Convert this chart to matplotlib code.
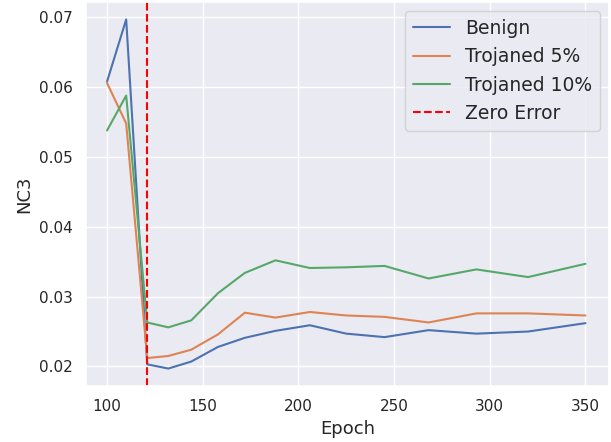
import matplotlib
matplotlib.use("Agg")
import matplotlib.pyplot as plt
import seaborn as sns

sns.set_theme(style="darkgrid")
plt.rcParams['font.family'] = ['DejaVu Sans']

epochs = [100, 110, 121, 132, 144, 158, 172, 188, 206, 225, 245, 268, 293, 320, 350]
benign = [0.0608, 0.0697, 0.0203, 0.0197, 0.0207, 0.0228, 0.0241, 0.0251, 0.0259, 0.0247, 0.0242, 0.0252, 0.0247, 0.0250, 0.0262]
troj5 = [0.0606, 0.0548, 0.0212, 0.0215, 0.0224, 0.0246, 0.0277, 0.0270, 0.0278, 0.0273, 0.0271, 0.0263, 0.0276, 0.0276, 0.0273]
troj10 = [0.0538, 0.0588, 0.0263, 0.0256, 0.0266, 0.0305, 0.0334, 0.0352, 0.0341, 0.0342, 0.0344, 0.0326, 0.0339, 0.0328, 0.0347]
zero_error_epoch = 121

fig = plt.figure(figsize=(6.11, 4.42), dpi=100)
ax = fig.add_axes([86/611, 56/442, 523/611, 384/442])
ax.plot(epochs, benign, label="Benign")
ax.plot(epochs, troj5, label="Trojaned 5%")
ax.plot(epochs, troj10, label="Trojaned 10%")
ax.axvline(zero_error_epoch, color="red", linestyle="--", label="Zero Error")
ax.set_xlim(89, 362.3)
ax.set_xlabel("Epoch", fontsize=13)
ax.set_ylabel("NC3", fontsize=13)
ax.tick_params(labelsize=11)
ax.legend(loc="upper right", fontsize=13.5)
fig.savefig("out.png", dpi=100)
